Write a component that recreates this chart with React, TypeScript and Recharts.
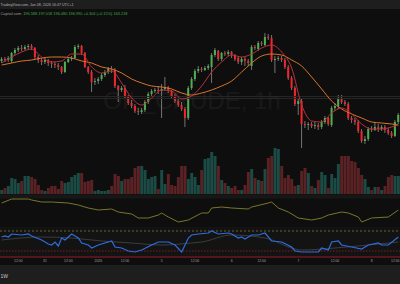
import React from "react";
import {
  Bar,
  Cell,
  ComposedChart,
  Line,
  ReferenceArea,
  ReferenceLine,
  XAxis,
  YAxis,
} from "recharts";

const FONT = "'Liberation Sans', Arial, sans-serif";
const GREEN = "#4caf50";
const RED = "#f0262d";
const WICK = "#8e8e8e";
const VOL_UP = "#1c4a44";
const VOL_DOWN = "#5a2224";

// OIL_CRUDE 1h candles: [open, high, low, close]
const ohlc: [number, number, number, number][] = [
  [58.76, 58.92, 58.68, 58.84], [58.84, 58.92, 58.72, 58.8], [58.8, 58.96, 58.72, 58.88],
  [58.76, 59.12, 58.68, 59.08], [59.08, 59.28, 59.0, 59.2], [59.2, 59.36, 59.12, 59.28],
  [59.28, 59.4, 59.16, 59.24], [59.24, 59.4, 59.2, 59.32], [59.32, 59.44, 59.24, 59.36],
  [59.36, 59.44, 59.2, 59.28], [59.28, 59.32, 58.84, 58.92], [58.92, 59.0, 58.68, 58.8],
  [58.8, 58.88, 58.6, 58.72], [58.72, 58.88, 58.64, 58.8], [58.8, 58.84, 58.56, 58.68],
  [58.68, 58.76, 58.48, 58.64], [58.64, 58.72, 58.48, 58.6], [58.6, 58.68, 58.4, 58.52],
  [58.52, 58.56, 58.24, 58.32], [58.32, 58.76, 58.28, 58.72], [58.72, 58.92, 58.68, 58.84],
  [58.84, 58.96, 58.76, 58.88], [58.88, 59.4, 58.84, 59.32], [59.32, 59.44, 59.24, 59.36],
  [59.36, 59.4, 59.0, 59.08], [59.08, 59.12, 58.48, 58.52], [58.52, 58.56, 58.24, 58.32],
  [58.32, 58.4, 57.52, 57.92], [57.92, 58.08, 57.8, 57.96], [57.96, 58.12, 57.84, 58.04],
  [58.04, 58.28, 57.96, 58.2], [58.2, 58.4, 58.12, 58.32], [58.32, 58.52, 58.24, 58.44],
  [58.44, 58.56, 58.28, 58.4], [58.4, 58.48, 57.68, 57.76], [57.76, 57.8, 57.12, 57.6],
  [57.6, 57.76, 57.52, 57.68], [57.68, 57.8, 57.24, 57.32], [57.32, 57.4, 57.0, 57.08],
  [57.08, 57.2, 56.88, 56.96], [56.96, 57.04, 56.68, 56.76], [56.76, 56.88, 56.6, 56.72],
  [56.72, 56.88, 56.64, 56.8], [56.8, 57.2, 56.72, 57.12], [57.12, 57.52, 57.04, 57.44],
  [57.44, 57.64, 57.36, 57.56], [57.56, 57.68, 57.48, 57.6], [57.6, 57.76, 57.44, 57.56],
  [57.56, 57.84, 56.48, 57.64], [57.64, 58.12, 57.56, 57.72], [57.72, 57.76, 57.48, 57.56],
  [57.56, 57.6, 57.28, 57.36], [57.36, 57.44, 57.08, 57.16], [57.16, 57.28, 56.92, 57.0],
  [57.0, 57.12, 56.76, 56.84], [56.84, 56.92, 56.12, 56.48], [56.48, 57.76, 56.4, 57.68],
  [57.68, 58.12, 57.6, 58.04], [58.04, 58.44, 57.96, 58.36], [58.36, 58.56, 58.28, 58.44],
  [58.44, 58.52, 58.32, 58.4], [58.4, 58.56, 58.36, 58.48], [58.48, 58.64, 58.4, 58.56],
  [58.52, 59.08, 57.88, 59.0], [59.0, 59.28, 58.92, 59.2], [59.16, 59.2, 58.76, 58.84],
  [58.84, 59.12, 58.76, 59.08], [59.08, 59.16, 58.96, 59.04], [59.04, 59.2, 58.96, 59.12],
  [59.12, 59.16, 58.88, 59.0], [59.0, 59.04, 58.76, 58.84], [58.88, 58.92, 58.64, 58.72],
  [58.72, 58.92, 58.6, 58.84], [58.84, 58.92, 58.56, 58.76], [58.76, 58.84, 58.56, 58.68],
  [58.56, 59.4, 58.4, 59.32], [59.32, 59.4, 59.2, 59.28], [59.24, 59.56, 59.16, 59.48],
  [59.48, 59.56, 59.36, 59.44], [59.4, 59.88, 59.36, 59.72], [59.72, 59.84, 59.6, 59.68],
  [59.68, 59.8, 58.72, 58.8], [58.8, 58.96, 58.28, 58.84], [58.84, 58.96, 58.76, 58.88],
  [58.88, 58.96, 58.72, 58.8], [58.8, 58.88, 58.44, 58.52], [58.52, 58.6, 58.0, 58.08],
  [58.08, 58.16, 57.6, 57.68], [57.68, 57.76, 56.96, 57.04], [57.04, 57.28, 56.6, 57.16],
  [57.16, 57.24, 55.28, 56.24], [56.24, 56.36, 56.08, 56.2], [56.2, 56.32, 56.0, 56.24],
  [56.24, 56.32, 56.08, 56.16], [56.16, 56.32, 56.04, 56.2], [56.2, 56.28, 56.0, 56.12],
  [56.12, 56.4, 56.04, 56.32], [56.32, 56.56, 56.24, 56.48], [56.48, 56.52, 56.16, 56.24],
  [56.2, 56.96, 56.12, 56.88], [56.88, 57.08, 56.76, 56.96], [56.96, 57.4, 56.84, 57.24],
  [57.24, 57.4, 57.04, 57.12], [57.12, 57.2, 56.96, 57.04], [57.04, 57.12, 56.4, 56.48],
  [56.48, 56.56, 56.28, 56.4], [56.4, 56.48, 56.2, 56.32], [56.32, 56.4, 55.88, 55.96],
  [55.96, 56.04, 55.48, 55.56], [55.56, 55.76, 55.44, 55.64], [55.64, 56.12, 55.56, 56.04],
  [56.04, 56.16, 55.92, 56.0], [56.0, 56.32, 55.96, 56.12], [56.12, 56.24, 55.92, 56.04],
  [56.04, 56.2, 55.96, 56.12], [56.12, 56.2, 55.88, 56.0], [56.0, 56.08, 55.8, 55.88],
  [55.88, 55.96, 55.68, 55.76], [55.76, 56.4, 55.72, 56.32], [56.32, 56.68, 56.24, 56.6],
];

const volumes = [
  4, 6, 8, 16, 15, 11, 13, 18, 18, 17,
  15, 9, 4, 3, 6, 8, 8, 5, 13, 11,
  12, 17, 19, 21, 21, 12, 13, 14, 3, 4,
  3, 3, 4, 8, 20, 18, 13, 15, 15, 17,
  26, 28, 28, 24, 15, 17, 18, 5, 24, 10,
  20, 9, 8, 17, 28, 28, 15, 21, 17, 9,
  24, 35, 36, 42, 38, 28, 14, 11, 8, 6,
  8, 4, 4, 9, 22, 25, 16, 14, 13, 25,
  36, 38, 46, 45, 28, 16, 19, 15, 8, 9,
  23, 26, 21, 8, 6, 14, 22, 19, 6, 20,
  16, 30, 38, 38, 38, 33, 32, 26, 19, 15,
  7, 4, 7, 7, 4, 8, 17, 19, 18, 18,
];

// moving averages: [candle index, price]
const fastMa: [number, number][] = [
  [0, 58.68], [3, 58.92], [6, 59.12], [9, 59.24], [12, 58.92], [15, 58.72], [18, 58.76],
  [21, 59.04], [24, 59.04], [27, 58.52], [30, 58.28], [33, 58.36], [36, 57.88], [39, 57.28],
  [42, 57.0], [45, 57.28], [48, 57.6], [51, 57.56], [54, 57.24], [57, 57.36], [60, 57.76],
  [63, 58.32], [66, 58.72], [69, 59.0], [72, 58.92], [75, 59.04], [78, 59.28], [81, 59.4],
  [84, 59.12], [87, 58.48], [90, 57.0], [93, 56.36], [96, 56.32], [99, 56.68], [102, 56.88],
  [105, 56.64], [108, 56.24], [111, 56.04], [114, 56.04], [117, 56.12], [119, 56.2],
];

const slowMa: [number, number][] = [
  [0, 58.6], [3, 58.68], [6, 58.76], [9, 58.8], [12, 58.88], [15, 58.92], [18, 58.92],
  [21, 58.88], [24, 58.76], [27, 58.68], [30, 58.52], [33, 58.44], [36, 58.28], [39, 58.04],
  [42, 57.88], [45, 57.76], [48, 57.72], [51, 57.64], [54, 57.48], [57, 57.4], [60, 57.48],
  [63, 57.6], [66, 57.76], [69, 57.96], [72, 58.32], [75, 58.68], [78, 58.96], [81, 59.04],
  [84, 59.0], [87, 58.8], [90, 58.56], [93, 58.12], [96, 57.64], [99, 57.16], [102, 56.84],
  [105, 56.64], [108, 56.48], [111, 56.32], [114, 56.28], [117, 56.24], [119, 56.2],
];

// upper oscillator pane
const osc: [number, number][] = [
  [0, 60], [3, 70], [8, 70], [9, 67.5], [12, 62.5], [15, 62.5], [20, 60], [23, 55],
  [26, 47.5], [29, 42.5], [33, 45], [35, 37.5], [39, 32.5], [41, 22.5], [44, 22.5],
  [47, 30], [48, 35], [50, 25], [53, 12.5], [56, 17.5], [60, 35], [62, 35], [63, 47.5],
  [66, 50], [69, 47.5], [74, 45], [75, 50], [80, 60], [81, 62.5], [83, 47.5], [86, 37.5],
  [89, 22.5], [93, 17.5], [96, 22.5], [98, 30], [102, 37.5], [104, 35], [107, 25],
  [108, 12.5], [111, 22.5], [116, 25], [119, 42.5],
];

// RSI pane
const rsi: [number, number][] = [
  [0, 58], [1, 60], [2, 58], [3, 64], [6, 62], [8, 64], [9, 60], [12, 52], [14, 44],
  [15, 42], [16, 48], [17, 40], [18, 56], [19, 52], [20, 58], [21, 64], [23, 56], [24, 46],
  [26, 42], [27, 36], [29, 42], [32, 48], [33, 50], [34, 38], [36, 36], [38, 30], [40, 28],
  [42, 32], [45, 42], [47, 48], [50, 48], [52, 42], [54, 28], [56, 56], [57, 62], [59, 64],
  [62, 66], [63, 70], [65, 64], [68, 66], [69, 64], [71, 56], [72, 58], [73, 54], [75, 62],
  [77, 62], [79, 66], [81, 50], [84, 48], [87, 38], [88, 30], [90, 28], [93, 28], [95, 28],
  [96, 36], [98, 32], [99, 48], [101, 50], [102, 42], [105, 38], [108, 34], [110, 42],
  [113, 46], [114, 42], [116, 42], [119, 58],
];

const rsiMa: [number, number][] = [
  [0, 52], [12, 58], [21, 56], [30, 50], [39, 46], [48, 42], [57, 46], [60, 48],
  [69, 62], [79, 56], [90, 32], [100, 36], [110, 42], [119, 48],
];

const tickIdx = [5, 13, 20, 29, 37, 48, 58, 69, 78, 89, 100, 111, 119];
const tickText = ["12:00", "31", "12:00", "2026", "12:00", "5", "12:00", "6", "12:00", "7", "12:00", "8", "12:00"];

const rows: any[] = ohlc.map(([o, h, l, c], i) => ({
  i,
  o,
  h,
  l,
  c,
  range: [l, h],
  vol: volumes[i],
  fast: null,
  slow: null,
  osc: null,
  rsi: null,
  rsiMa: null,
}));
fastMa.forEach(([i, v]) => (rows[i].fast = v));
slowMa.forEach(([i, v]) => (rows[i].slow = v));
osc.forEach(([i, v]) => (rows[i].osc = v));
rsi.forEach(([i, v]) => (rows[i].rsi = v));
rsiMa.forEach(([i, v]) => (rows[i].rsiMa = v));

const Candle = (props: any) => {
  const { x, y, width, height, payload } = props;
  const { o, h, l, c } = payload;
  const k = height / (h - l || 1);
  const top = y + (h - Math.max(o, c)) * k;
  const bodyH = Math.max(1, Math.abs(o - c) * k);
  const cx = x + width / 2;
  return (
    <g>
      <line x1={cx} x2={cx} y1={y} y2={y + height} stroke={WICK} strokeWidth={0.8} />
      <rect x={x} y={top} width={width} height={bodyH} fill={c >= o ? GREEN : RED} />
    </g>
  );
};

// last label sits on the right edge, so anchor it to its end
const TimeTick = (props: any) => {
  const { x, y, payload } = props;
  const k = tickIdx.indexOf(payload.value);
  const last = k === tickIdx.length - 1;
  return (
    <text
      x={last ? 399.5 : x}
      y={y}
      dy="0.71em"
      textAnchor={last ? "end" : "middle"}
      fill="#a0a0a0"
      fontSize={3.4}
      fontFamily={FONT}
    >
      {tickText[k]}
    </text>
  );
};

const noMargin = { top: 0, right: 0, bottom: 0, left: 0 };

function Pane({ top, height, children }: { top: number; height: number; children: React.ReactNode }) {
  return <div style={{ position: "absolute", left: 0, top, width: 400, height }}>{children}</div>;
}

export default function App() {
  return (
    <div
      style={{
        position: "absolute",
        left: 0,
        top: 0,
        width: 400,
        height: 284,
        background: "#0e0e0e",
        overflow: "hidden",
        fontFamily: FONT,
      }}
    >
      <svg width={400} height={284} style={{ position: "absolute", left: 0, top: 0 }}>
        <rect x={0} y={0} width={400} height={9} fill="#1e1e1e" />
        <text x={0.5} y={5.8} fontSize={4} fill="#b4b4b4" textLength={73} lengthAdjust="spacingAndGlyphs">
          TradingView.com, Jan 08, 2026 16:47 UTC+1
        </text>
        <text x={0.5} y={14.6} fontSize={4} fill="#9c9c9c" textLength={127} lengthAdjust="spacingAndGlyphs">
          Capital.com:{" "}
          <tspan fill="#43a84a">196.588 197.018 196.480 196.990 +0.304 (+0.15%) 163.218</tspan>
        </text>
        <text x={192} y={109} fontSize={24} fill="#191919" textAnchor="middle">
          OIL_CRUDE, 1h
        </text>
        <rect x={0} y={194.5} width={400} height={4} fill="#171717" />
        <rect x={0} y={265} width={400} height={19} fill="#1e1e1e" />
        <text x={0.5} y={277.5} fontSize={5} fill="#c8c8c8">
          1W
        </text>
      </svg>

      <Pane top={140} height={54}>
        <ComposedChart width={400} height={54} data={rows} margin={noMargin} barCategoryGap="6%">
          <XAxis dataKey="i" hide scale="band" />
          <YAxis hide domain={[0, 54]} allowDataOverflow />
          <Bar dataKey="vol" isAnimationActive={false}>
            {rows.map((r) => (
              <Cell key={r.i} fill={r.c >= r.o ? VOL_UP : VOL_DOWN} />
            ))}
          </Bar>
        </ComposedChart>
      </Pane>

      <Pane top={20} height={140}>
        <ComposedChart width={400} height={140} data={rows} margin={noMargin} barCategoryGap="17%">
          <XAxis dataKey="i" hide scale="band" />
          <YAxis hide domain={[54.8, 60.4]} allowDataOverflow />
          <ReferenceLine y={57.34} stroke="#262626" />
          <ReferenceLine y={57.26} stroke="#262626" />
          <Bar dataKey="range" shape={<Candle />} isAnimationActive={false} />
          <Line
            dataKey="slow"
            type="monotone"
            stroke="#d9742a"
            strokeWidth={1}
            dot={false}
            connectNulls
            isAnimationActive={false}
          />
          <Line
            dataKey="fast"
            type="monotone"
            stroke="#b8323a"
            strokeWidth={1}
            dot={false}
            connectNulls
            isAnimationActive={false}
          />
        </ComposedChart>
      </Pane>

      <Pane top={195} height={32}>
        <ComposedChart width={400} height={32} data={rows} margin={noMargin}>
          <XAxis dataKey="i" hide scale="band" />
          <YAxis hide domain={[0, 80]} allowDataOverflow />
          <Line
            dataKey="osc"
            stroke="#77772a"
            strokeWidth={1}
            dot={false}
            connectNulls
            isAnimationActive={false}
          />
        </ComposedChart>
      </Pane>

      <Pane top={227} height={39}>
        <ComposedChart width={400} height={39} data={rows} margin={noMargin}>
          <XAxis
            dataKey="i"
            scale="band"
            ticks={tickIdx}
            interval={0}
            tick={<TimeTick />}
            tickLine={false}
            axisLine={false}
            tickSize={0}
            tickMargin={1.5}
            height={8}
          />
          <YAxis hide domain={[16, 78]} allowDataOverflow />
          <ReferenceArea y1={18} y2={78} fill="#131313" fillOpacity={1} />
          <ReferenceLine y={70} stroke="#6a6628" strokeDasharray="2 2" />
          <ReferenceLine y={30} stroke="#7a1f22" strokeDasharray="1.5 1.5" />
          <ReferenceLine y={18} stroke="#6e1620" strokeWidth={1.5} />
          <Line
            dataKey="rsiMa"
            type="monotone"
            stroke="#3c3c3c"
            strokeWidth={1}
            dot={false}
            connectNulls
            isAnimationActive={false}
          />
          <Line
            dataKey="rsi"
            stroke="#2f6ce0"
            strokeWidth={1.2}
            dot={false}
            connectNulls
            isAnimationActive={false}
          />
        </ComposedChart>
      </Pane>
    </div>
  );
}
